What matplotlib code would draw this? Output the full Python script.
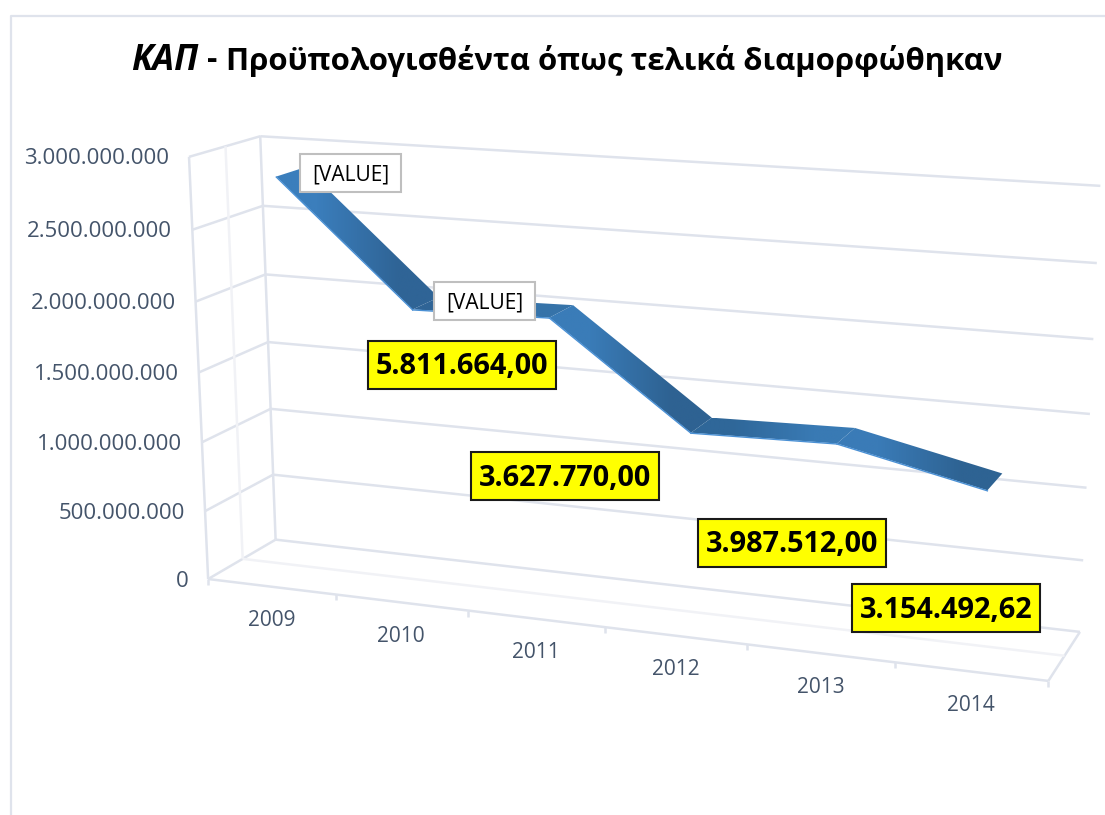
import numpy as np
import matplotlib
matplotlib.use("Agg")
import matplotlib.pyplot as plt
from matplotlib.colors import to_rgb
from matplotlib.patches import Polygon, Rectangle

# data
years = ["2009", "2010", "2011", "2012", "2013", "2014"]
values = [2850000000, 2000000000, 2020000000, 1320000000, 1340000000, 1125000000]
axis_ticks = [0, 500000000, 1000000000, 1500000000, 2000000000, 2500000000, 3000000000]
axis_labels = ["0", "500.000.000", "1.000.000.000", "1.500.000.000",
               "2.000.000.000", "2.500.000.000", "3.000.000.000"]
yellow_labels = ["5.811.664,00", "3.627.770,00", "3.987.512,00", "3.154.492,62"]
yellow_pos = [(462, 365), (565, 476), (792, 543), (946, 608)]
value_label_pos = [(350, 173), (484, 301)]
title_left = "ΚΑΠ"
title_dash = "-"
title_right = "Προϋπολογισθέντα όπως τελικά διαμορφώθηκαν"

GRID = "#DFE3EC"
GRID_LIGHT = "#F1F2F6"
TEXT = "#44546A"
W, H = 1105, 815

# camera: (category, value in 500M units, depth) -> pixel, fitted on the box corners
box_3d = [(0, 0, 0), (6, 0, 0), (0, 6, 0), (0, 0, 1), (6, 0, 1), (0, 6, 1), (6, 6, 1),
          (0, 3, 1), (6, 3, 1), (3, 0, 0), (0, 3, 0), (0, 0, .5), (6, 0, .5), (0, 6, .5)]
box_px = [(209, 579), (1048, 682), (189, 157), (275, 540), (1080, 630), (260, 136), (1100, 186),
          (268, 343), (1091, 414), (605, 628), (198, 370), (243, 559), (1064, 656), (226, 147)]
rows, rhs = [], []
for (a, b, c), (u, v) in zip(box_3d, box_px):
    rows.append([a, b, c, 1, 0, 0, 0, 0, -u * a, -u * b, -u * c])
    rows.append([0, 0, 0, 0, a, b, c, 1, -v * a, -v * b, -v * c])
    rhs += [u, v]
cam = np.linalg.lstsq(np.array(rows, float), np.array(rhs, float), rcond=None)[0]
cam = np.append(cam, 1).reshape(3, 4)


def project(cat, val, depth):
    p = cam @ np.array([cat, val / 500000000, depth, 1.0])
    return p[0] / p[2], p[1] / p[2]


fig = plt.figure(figsize=(W / 100, H / 100), dpi=100)
ax = fig.add_axes([0, 0, 1, 1])
ax.set_axis_off()


def seg(a, b, color=GRID, lw=1.8, z=1):
    ax.plot([a[0], b[0]], [a[1], b[1]], color=color, lw=lw, zorder=z, solid_capstyle="butt")


def box(cx, cy, w, h, fc, ec, lw):
    ax.add_patch(Rectangle((cx - w / 2, cy - h / 2), w, h, fc=fc, ec=ec, lw=lw, zorder=5))


# chart frame, open on the right
ax.plot([11, 11, 1105], [815, 16, 16], color=GRID, lw=1.6, zorder=1)

# gridlines on back and side walls
for t in axis_ticks:
    seg(project(0, t, 1), project(6, t, 1))
    seg(project(0, t, 0), project(0, t, 1))
seg(project(0, 0, 0), project(0, axis_ticks[-1], 0))
seg(project(0, 0, 1), project(0, axis_ticks[-1], 1))
seg(project(0, 0, .5), project(0, axis_ticks[-1], .5), GRID_LIGHT)
# floor
seg(project(0, 0, 0), project(6, 0, 0))
seg(project(6, 0, 0), project(6, 0, 1))
seg(project(0, 0, .5), project(6, 0, .5), GRID_LIGHT)
for i in range(7):
    p = project(i, 0, 0)
    seg(p, (p[0], p[1] + 6), GRID)

# ribbon, each stretch with its own left/right shade
shades = [("#3B7EBC", "#2F6496"), ("#2F6496", "#3673A9"), ("#3A7CB8", "#2E6292"),
          ("#2F6799", "#397AB4"), ("#3A7BB7", "#2E6393")]
ribbon_front, ribbon_back = 0.29, 0.71
for i in range(len(values) - 1):
    a = project(i + .5, values[i], ribbon_front)
    b = project(i + .5, values[i], ribbon_back)
    c = project(i + 1.5, values[i + 1], ribbon_back)
    d = project(i + 1.5, values[i + 1], ribbon_front)
    pts = np.array([a, b, c, d])
    poly = Polygon(pts, closed=True, fc="none", ec="none", transform=ax.transData)
    ax.add_patch(poly)
    c0, c1 = to_rgb(shades[i][0]), to_rgb(shades[i][1])
    im = ax.imshow([[c0, c1]], extent=(pts[:, 0].min(), pts[:, 0].max(), pts[:, 1].max(), pts[:, 1].min()),
                   interpolation="bilinear", aspect="auto", zorder=3)
    im.set_clip_path(poly)
    ax.plot([a[0], d[0]], [a[1] + .5, d[1] + .5], color="#4A90D4", lw=1.0, zorder=4)

ax.set_xlim(0, W)
ax.set_ylim(H, 0)

# axis labels
for t, lab in zip(axis_ticks, axis_labels):
    p = project(0, t, 0)
    ax.text(p[0] - 20, p[1] + 2, lab, ha="right", va="center", color=TEXT, fontsize=16, family="Open Sans")
for i, y in enumerate(years):
    p = project(i + .5, 0, 0)
    ax.text(p[0], p[1] + 34, y, ha="center", va="center", color=TEXT, fontsize=15, family="Open Sans")

# data labels
for (x, y) in value_label_pos:
    box(x, y, 101, 38, "white", "#BFBFBF", 1.5)
    ax.text(x + 1, y + 1.5, "[VALUE]", ha="center", va="center", fontsize=15, family="Open Sans", color="black", zorder=6)
for lab, (x, y) in zip(yellow_labels, yellow_pos):
    box(x, y, 188, 48, "#FFFF00", "#1A1A1A", 1.5)
    ax.text(x, y + 2, lab, ha="center", va="center", fontsize=20.8, fontweight="bold", family="Open Sans",
            color="black", zorder=6)

# title
ax.text(131, 61, title_left, ha="left", va="center", fontsize=25, fontweight="bold", style="italic",
        family="Open Sans", color="black")
ax.text(212, 61, title_dash, ha="center", va="center", fontsize=23, fontweight="bold",
        family="Open Sans", color="black")
ax.text(1003, 61, title_right, ha="right", va="center", fontsize=22.4, fontweight="bold",
        family="Open Sans", color="black")

fig.savefig("out.png", dpi=100)
